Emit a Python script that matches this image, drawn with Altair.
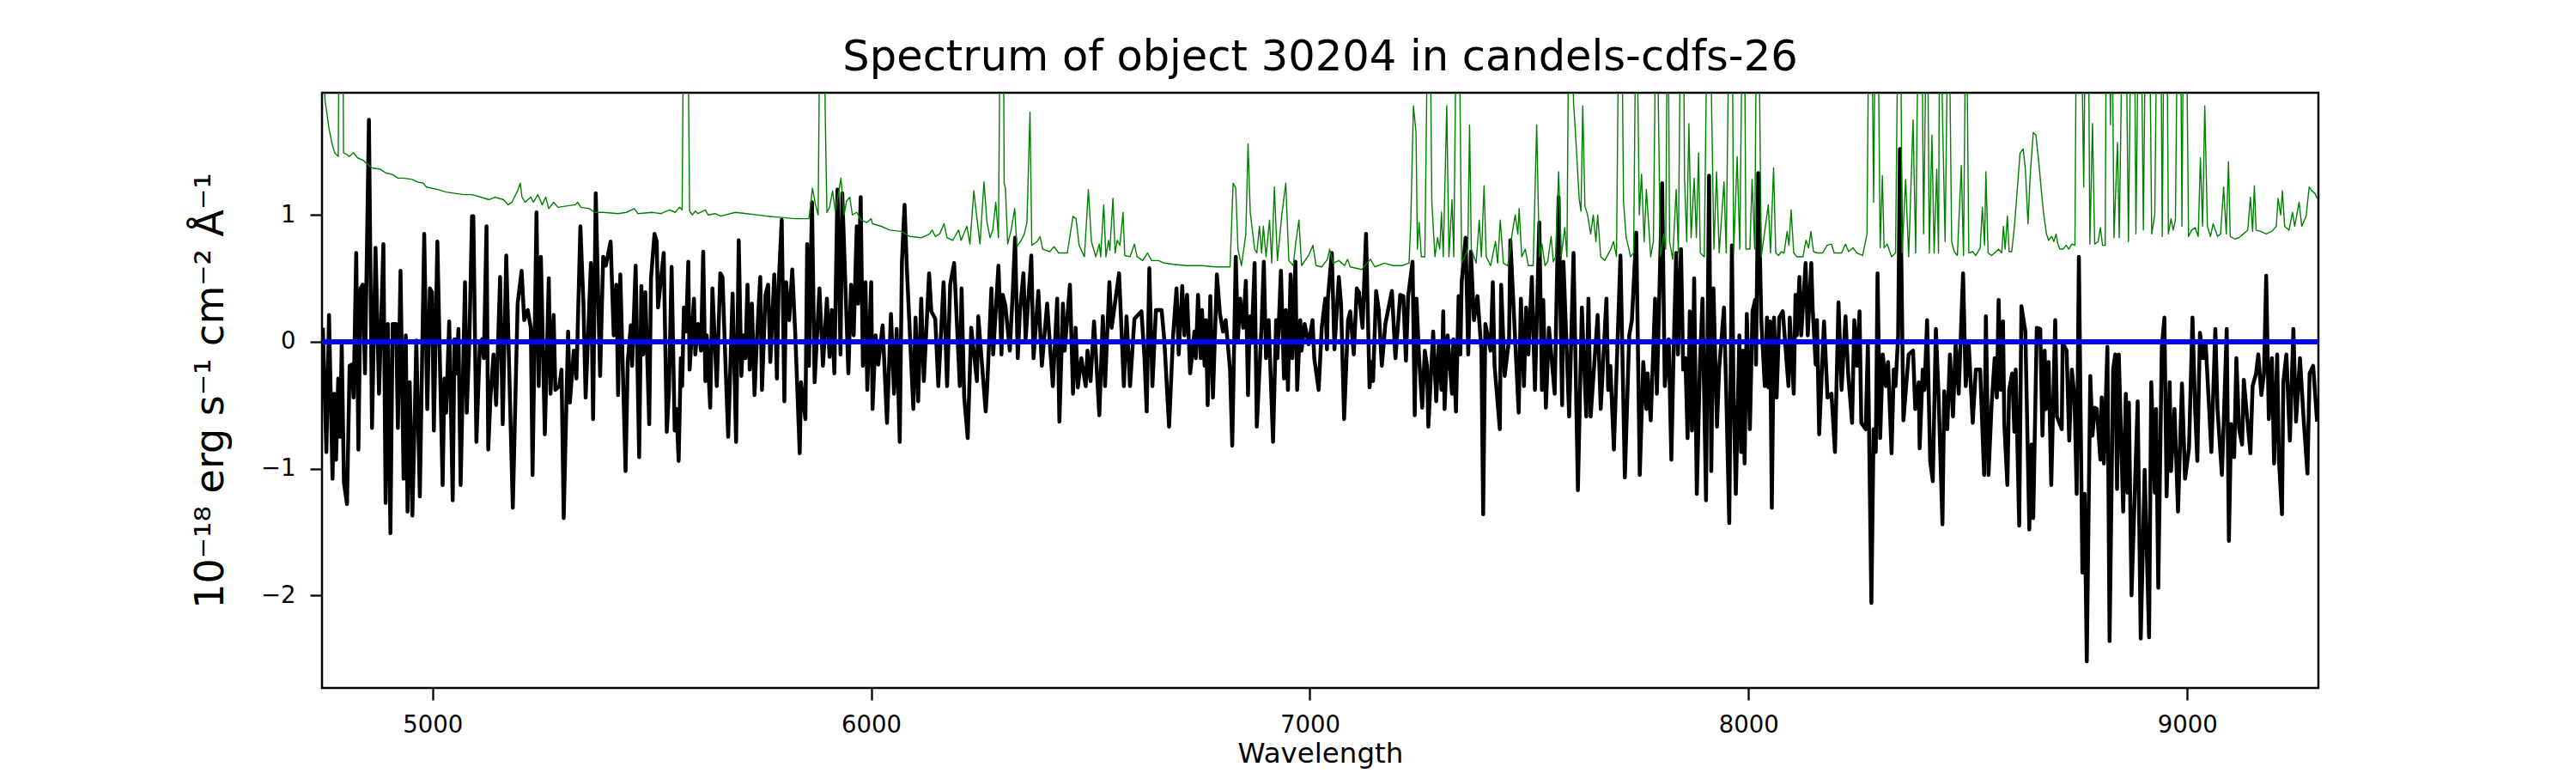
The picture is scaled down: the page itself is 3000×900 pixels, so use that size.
import altair as alt
import pandas as pd

# ---- data ----
wave_flux = [
    4750, 4758, 4764, 4772, 4776, 4780, 4785, 4789, 4793, 4798, 4805, 4811, 4816, 4820, 4826, 4831, 4836, 4841, 4846, 4855,
    4862, 4870, 4878, 4888, 4893, 4898, 4904, 4909, 4917, 4921, 4927, 4934, 4939, 4943, 4948, 4954, 4960, 4963, 4971, 4981,
    4988, 4994, 4999, 5003, 5011, 5017, 5023, 5027, 5031, 5038, 5046, 5050, 5054, 5059, 5064, 5074, 5078, 5084, 5090, 5093,
    5100, 5108, 5113, 5117, 5123, 5127, 5132, 5139, 5145, 5154, 5160, 5168, 5183, 5194, 5203, 5209, 5217, 5224, 5228, 5237,
    5242, 5247, 5256, 5265, 5269, 5276, 5280, 5289, 5294, 5299, 5309, 5313, 5322, 5328, 5337, 5344, 5349, 5361, 5366, 5372,
    5382, 5389, 5395, 5406, 5413, 5419, 5423, 5428, 5440, 5445, 5452, 5455, 5463, 5471, 5476, 5480, 5485, 5494, 5498,
    5506, 5511, 5514, 5527, 5534, 5539, 5545, 5552, 5556, 5561, 5566, 5569, 5573, 5578, 5583, 5586, 5596, 5599, 5605, 5612,
    5617, 5622, 5625, 5633, 5638, 5648, 5656, 5661, 5667, 5674, 5684, 5692, 5698, 5704, 5708, 5713, 5718, 5723, 5728, 5734,
    5739, 5747, 5751, 5759, 5765, 5770, 5779, 5785, 5789, 5796, 5802, 5806, 5813, 5820, 5827, 5837, 5840, 5850, 5854, 5858,
    5865, 5871, 5882, 5890, 5899, 5905, 5910, 5916, 5923, 5930, 5934, 5948, 5954, 5960, 5967, 5970, 5976, 5981, 5987, 5991,
    6000, 6003, 6010, 6016, 6026, 6036, 6045, 6052, 6058, 6065, 6070, 6076, 6081, 6096, 6101, 6107, 6114, 6120, 6132, 6137,
    6146, 6153, 6165, 6173, 6180, 6189, 6202, 6206, 6212, 6220, 6228, 6241, 6244, 6261,
    6264, 6274, 6278, 6290, 6297, 6300, 6306, 6316, 6323, 6328, 6334, 6339, 6347, 6352, 6365, 6370, 6381, 6389, 6401, 6414,
    6424, 6429, 6437, 6441, 6453, 6460, 6466, 6471, 6479, 6489, 6493, 6500, 6508, 6520, 6528, 6533, 6543, 6548, 6565, 6576,
    6582, 6590, 6600, 6616, 6623, 6628, 6634, 6641, 6649, 6662, 6668, 6679, 6688, 6696, 6701, 6709, 6714, 6720, 6727, 6737,
    6740, 6745, 6751, 6754, 6760, 6763, 6767, 6773, 6779, 6788, 6795, 6802, 6808, 6818, 6823, 6831, 6836, 6841, 6848, 6854,
    6859, 6863, 6867, 6874, 6879, 6890, 6895, 6900, 6906, 6916, 6923, 6926, 6934, 6941, 6945, 6950, 6956, 6960, 6967, 6971,
    6978, 6981, 6988, 6997, 7006, 7010, 7020, 7027,
    7035, 7039, 7041, 7050, 7056, 7066, 7071, 7078, 7087, 7092, 7100, 7107, 7112, 7120, 7128, 7136, 7141, 7144, 7151, 7157,
    7164, 7172, 7187, 7195, 7206, 7213, 7219, 7224, 7234, 7239, 7243, 7249, 7256, 7262, 7267, 7270, 7281, 7288, 7294, 7300,
    7304, 7307, 7314, 7324, 7327, 7333, 7339, 7343, 7346, 7355, 7361, 7367, 7374, 7382, 7391, 7395, 7400, 7412, 7417, 7421,
    7433, 7436, 7444, 7454, 7457, 7476, 7481, 7488, 7493, 7498, 7506, 7513, 7523, 7529, 7532, 7538, 7545, 7558, 7567, 7575,
    7578, 7591, 7601, 7611, 7620, 7630, 7635, 7640, 7656, 7663, 7676, 7680, 7685, 7693, 7708, 7718, 7728, 7734, 7744, 7752,
    7760, 7767, 7770, 7777, 7787,
    7791, 7796, 7803, 7809, 7818, 7824, 7829, 7835, 7839, 7846, 7851, 7856, 7861, 7866, 7871, 7876, 7882, 7889, 7895, 7903,
    7910, 7915, 7920, 7928, 7933, 7944, 7949, 7956, 7962, 7966, 7971, 7979, 7983, 7987, 7991, 7996, 8003, 8009, 8015, 8017,
    8022, 8029, 8037, 8042, 8045, 8049, 8053, 8058, 8064, 8070, 8078, 8091, 8094, 8103, 8107, 8110, 8116, 8120, 8130, 8135,
    8143, 8146, 8153, 8156, 8161, 8172, 8180, 8189, 8197, 8205, 8212, 8221, 8227, 8236, 8241, 8247, 8253, 8257, 8267, 8272,
    8280, 8285, 8290, 8294, 8300, 8306, 8313, 8318, 8326, 8331, 8335, 8341, 8345, 8353, 8365, 8375, 8380, 8388, 8390, 8397,
    8401, 8407, 8414, 8420, 8427, 8433, 8442, 8446, 8453, 8459, 8466, 8472, 8479, 8489, 8495, 8502, 8511, 8518, 8528, 8537,
    8541, 8547,
    8554, 8561, 8566, 8570, 8575, 8580, 8583, 8590, 8594, 8601, 8606, 8609, 8617, 8622, 8631, 8640, 8645, 8649, 8657, 8665,
    8670, 8675, 8678, 8684, 8690, 8699, 8703, 8714, 8716, 8725, 8731, 8737, 8743, 8748, 8753, 8761, 8766, 8771, 8779, 8784,
    8789, 8794, 8802, 8805, 8810, 8818, 8823, 8831, 8836, 8840, 8844, 8854, 8860, 8864, 8867, 8873, 8887, 8894, 8903, 8913,
    8918, 8926, 8929, 8934, 8942, 8948, 8953, 8960, 8963, 8971, 8979, 8988, 8995, 9004, 9012, 9018, 9023, 9029, 9036, 9042,
    9050, 9055, 9064, 9069, 9079, 9083, 9090, 9095, 9100, 9107, 9112, 9118, 9125, 9129, 9134, 9144, 9149, 9157, 9162, 9169,
    9175, 9180, 9186, 9193, 9198, 9205, 9209, 9216, 9219, 9226, 9234, 9242, 9248, 9257, 9265, 9274, 9279, 9287, 9296,
]

flux = [
    0.11, -0.87, 0.21, -1.08, -0.41, -0.93, -0.29, -0.75, -0.02, -1.11, -1.28, -0.19, -0.18, -0.44, 0.70, -0.85, 0.42, 0.45, -0.25, 1.75,
    -0.68, 0.74, -0.41, 0.77, -1.27, 0.14, -1.51, 0.14, 0.14, -0.68, 0.56, -1.08, 0.05, -1.34, -0.32, -1.37, -0.50, 0.01, -1.22, 0.85,
    -0.53, 0.42, 0.39, -0.70, 0.79, -0.19, -1.13, -0.29, -0.56, 0.16, -1.25, 0.02, -0.25, 0.10, -1.13, 0.47, -0.56, 0.02, 0.99, 0.99,
    -0.79, -0.01, 0.02, -0.13, 0.91, -0.85, -0.44, -0.10, -0.50, 0.51, -0.65, 0.68, -1.31, 0.30, 0.56, 0.17, 0.25, 0.11, -1.05, 1.02,
    -0.35, 0.67, -0.73, 0.50, -0.41, 0.21, -0.38, -0.35, -0.22, -1.39, 0.08, -0.48, -0.07, -0.29, 0.91, 0.30, -0.44, 0.62, -0.61, 1.17,
    -0.27, 0.67, 0.60, 0.79, 0.05, 0.45, -0.42, 0.53, -1.02, -0.16, 0.13, -0.19, 0.60, -0.91, 0.44, -0.10, 0.39, -0.65, 0.50,
    0.85, 0.79, 0.27, 0.70, -0.71, -0.38, 0.59, -0.70, -0.53, -0.94, -0.13, -0.35, 0.27, 0.08, 0.63, -0.22, 0.34, -0.10, 0.14, -0.07,
    0.71, -0.31, 0.05, -0.52, 0.42, -0.35, 0.54, 0.51, -0.10, -0.75, 0.38, -0.79, 0.80, -0.27, 0.05, -0.13, 0.45, -0.22, 0.30, -0.42,
    -0.01, 0.51, -0.38, 0.37, 0.45, -0.16, 0.53, -0.29, 0.45, 0.96, -0.47, 0.47, 0.17, 0.57, 0.05, -0.88, -0.32, -0.61, 0.77, -0.19,
    1.10, -0.32, 0.42, -0.19, 0.34, -0.12, 0.25, -0.25, 1.20, -0.10, 1.17, -0.25, 0.45, 0.05, 0.91, 0.30, 1.14, -0.19, 0.47, -0.38,
    0.47, -0.53, 0.05, -0.18, 0.13, -0.64, 0.22, -0.41, 0.10, -0.79, 0.63, 1.08, 0.60, -0.53, 0.19, -0.47, 0.34, -0.31, 0.54, 0.24,
    0.18, -0.35, 0.47, -0.35, 0.45, 0.62, -0.35, 0.42, -0.44, -0.76, 0.11, -0.31, 0.20, -0.55,
    -0.38, 0.42, -0.10, 0.60, -0.10, 0.37, 0.28, -0.07, 0.42, 0.82, -0.13, 0.24, 0.54, 0.02, 0.68, -0.13, 0.40, -0.19, 0.30, -0.35,
    0.34, -0.63, 0.30, -0.07, 0.45, -0.41, 0.11, -0.36, -0.13, -0.35, -0.07, -0.31, 0.16, -0.58, 0.20, -0.35, 0.47, 0.11, 0.54, -0.35,
    0.20, -0.35, 0.18, 0.24, -0.13, -0.55, 0.58, -0.35, 0.25, 0.25, 0.02, -0.67, 0.04, 0.42, -0.10, 0.44, 0.05, 0.37, -0.25, 0.08,
    -0.13, 0.37, -0.13, 0.25, -0.19, 0.17, -0.50, 0.36, -0.44, 0.53, 0.22, 0.08, 0.17, -0.22, -0.82, 0.67, 0.02, 0.34, 0.11, 0.48,
    -0.42, 0.20, -0.01, 0.62, -0.67, 0.14, 0.63, -0.13, 0.17, -0.79, 0.17, -0.13, 0.56, -0.29, 0.25, -0.38, 0.53, -0.13, 0.63, -0.38,
    0.17, -0.07, 0.14, -0.02, 0.17, -0.13, -0.38, 0.11,
    0.34, -0.06, 0.34, 0.70, -0.06, 0.51, 0.30, -0.61, 0.17, 0.24, -0.10, 0.42, 0.39, 0.11, 0.85, -0.36, -0.16, -0.31, 0.40, 0.25,
    -0.19, 0.14, 0.40, -0.13, 0.37, 0.36, -0.15, 0.36, 0.63, -0.58, 0.34, -0.13, -0.52, -0.07, -0.19, -0.67, 0.08, -0.47, -0.01, -0.38,
    0.24, -0.53, 0.05, -0.41, 0.02, -0.55, 0.36, -0.10, 0.47, 0.82, -0.10, 0.71, 0.17, 0.36, -0.07, -1.36, 0.14, -0.07, 0.47, -0.19,
    -0.69, 0.45, -0.27, 0.02, 0.80, -0.56, 0.34, -0.35, 0.27, -0.10, 0.51, -0.38, 0.94, -0.38, 0.33, -0.52, 0.11, -0.41, 1.14, -0.50,
    0.63, -0.59, 0.70, -1.17, 0.27, -0.59, 0.34, -0.59, 0.21, -0.53, 0.34, -0.38, -0.19, -0.85, 0.68, -1.07, 0.05, 0.17, 0.86, -1.05,
    -0.16, -0.53, -0.25, -0.62, 0.34,
    -0.41, 0.28, 1.25, -0.35, 0.02, -0.93, -0.10, 0.70, -0.10, 0.73, -0.22, -0.13, -0.76, 0.24, -0.70, 0.50, -1.20, -0.19, 0.34, -1.25,
    1.31, -1.02, 0.42, -0.67, -0.21, 0.27, -0.38, -1.43, 0.76, -0.44, -1.20, 0.05, -0.87, -0.07, -0.96, 0.22, -0.69, 0.24, 0.33, -0.18,
    1.33, 0.17, -0.35, 0.19, -0.36, 0.16, -1.31, 0.19, -0.44, 0.19, 0.24, -0.35, 0.19, -0.41, 0.37, 0.05, 0.51, 0.05, 0.62, 0.05,
    0.62, 0.27, -0.18, 0.17, -0.73, 0.16, -0.44, -0.41, -0.87, 0.31, -0.38, 0.20, -0.25, -0.64, 0.17, -0.19, 0.24, -0.64, -0.69, -0.02,
    -2.06, -0.69, -0.87, 0.54, -0.76, -0.10, -0.35, -0.16, -0.88, -0.22, -0.35, 0.05, 1.52, -0.62, -0.10, -0.07, -0.53, -0.32, -0.84, -0.22,
    -0.38, 0.17, -0.94, -1.10, 0.10, -0.41, -1.44, -0.39, -0.69, -0.10, -0.59, -0.01, -0.41, 0.54, -0.35, -0.02, -0.64, -0.22, -0.22, -1.05,
    0.20, -1.05,
    -0.50, -0.13, -0.44, 0.33, -0.38, 0.16, -0.65, -1.13, -0.38, -0.25, -0.71, -0.22, -1.45, 0.28, 0.08, -1.48, -0.81, -1.39, 0.11, 0.10,
    -0.74, -0.07, -0.53, -0.16, -1.13, 0.17, -0.59, -0.69, -0.01, -0.07, -0.78, -0.22, -0.44, -1.20, 0.67, -1.82, -1.20, -2.52, -0.27, -0.74,
    -0.52, -0.53, -0.93, -0.44, -0.96, -0.04, -2.36, -0.22, -0.10, -1.16, -0.10, -1.34, -0.41, -1.19, -0.48, -2.00, -0.47, -2.34, -1.01, -2.33,
    -0.32, -1.19, -0.53, -1.94, -0.04, 0.19, -1.22, -0.32, -1.02, -0.53, -1.34, -0.33, -1.08, -0.84, 0.19, -0.53, -0.94, 0.07, -0.13, -0.01,
    -0.53, -0.87, 0.10, -0.53, -1.05, -0.65, 0.10, -1.57, -0.65, -0.91, -0.13, -0.68, -0.81, -0.30, -0.50, -0.88, -0.35, -0.25, -0.10, -0.42,
    -0.25, 0.52, -0.61, -0.13, -0.96, -0.10, -0.93, -1.36, -0.32, -0.10, -0.78, 0.10, -0.63, -0.13, -0.59, -1.04, -0.25, -0.19, -0.63,
]

wave_noise = [
    4750, 4755, 4758, 4764, 4771, 4777, 4785, 4788, 4795, 4797, 4803, 4810, 4820, 4829, 4842, 4852, 4862, 4881, 4894, 4908,
    4921, 4934, 4953, 4966, 4979, 4986, 4999, 5012, 5031, 5051, 5071, 5090, 5110, 5129, 5142, 5162, 5172, 5181, 5188, 5194,
    5200, 5204, 5211, 5224, 5230, 5240, 5250, 5258, 5265, 5276, 5286, 5305, 5325, 5331, 5338, 5357, 5370, 5390, 5423, 5442,
    5460, 5468, 5501,
    5521, 5540, 5553, 5563, 5569, 5573, 5581, 5586, 5592, 5599, 5605, 5622, 5628, 5644, 5657, 5690, 5716, 5762, 5794, 5827,
    5858, 5866, 5873, 5879, 5884, 5892, 5895, 5899, 5905, 5912, 5918, 5925, 5931, 5938, 5944, 5951, 5957, 5967, 5977, 5990,
    6000, 6003, 6023, 6042, 6068, 6088, 6114, 6133, 6139, 6146, 6156, 6166, 6173, 6186, 6199, 6205, 6218, 6225, 6234, 6241,
    6248, 6257, 6264,
    6271, 6277, 6284, 6290, 6295, 6301, 6303, 6306, 6311, 6319, 6327, 6332, 6342, 6349, 6355, 6362, 6366, 6378, 6385, 6391,
    6407, 6417, 6427, 6447, 6460, 6467, 6474, 6486, 6495, 6502, 6512, 6520, 6523, 6530, 6535, 6541, 6544, 6551, 6556, 6561,
    6567, 6574, 6578, 6590, 6600, 6606, 6619, 6630, 6639, 6655, 6668, 6688, 6720, 6753, 6786, 6818, 6825, 6831, 6836, 6844,
    6854, 6859, 6864, 6874, 6879, 6885, 6890, 6894, 6900, 6908, 6913, 6919, 6926, 6936, 6945, 6952, 6962, 6967, 6975, 6981,
    6997, 7007, 7014, 7027,
    7040, 7045, 7053, 7066, 7079, 7086, 7092, 7118, 7138, 7148, 7170, 7190, 7210, 7226, 7230, 7236, 7242, 7245, 7249, 7254,
    7262, 7270, 7273, 7278, 7285, 7291, 7296, 7300, 7304, 7312, 7317, 7324, 7328, 7335, 7339, 7346, 7353, 7360, 7364, 7368,
    7379, 7386, 7391, 7397, 7402, 7412, 7423, 7428, 7434, 7441, 7451, 7461, 7468, 7474, 7477, 7483, 7491, 7498, 7509, 7517,
    7523, 7529, 7536, 7542, 7550, 7555, 7560, 7567, 7573, 7581, 7586, 7591, 7596, 7601, 7607, 7614, 7618, 7622, 7627, 7633,
    7640, 7646, 7652, 7656, 7663, 7672, 7686, 7692, 7699, 7705, 7710, 7715, 7721, 7726, 7731, 7738, 7744, 7751, 7756, 7762,
    7767, 7772, 7777, 7783, 7790,
    7799, 7807, 7811, 7816, 7820, 7827, 7835, 7840, 7846, 7851, 7854, 7859, 7864, 7869, 7876, 7881, 7886, 7890, 7899, 7907,
    7911, 7916, 7921, 7927, 7933, 7944, 7949, 7957, 7962, 7966, 7974, 7980, 7987, 7990, 7994, 8003, 8008, 8014, 8019, 8022,
    8029, 8045, 8050, 8057, 8062, 8068, 8075, 8081, 8088, 8092, 8097, 8103, 8110, 8124, 8131, 8137, 8142, 8148, 8156, 8169,
    8179, 8189, 8195, 8212, 8221, 8228, 8238, 8247, 8260, 8270, 8275, 8280, 8285, 8290, 8294, 8300, 8305, 8309, 8316, 8326,
    8335, 8342, 8346, 8350, 8358, 8365, 8375, 8381, 8388, 8394, 8399, 8407, 8412, 8418, 8423, 8429, 8433, 8436, 8443, 8448,
    8456, 8463, 8469, 8476, 8485, 8490, 8496, 8502, 8511, 8518, 8528, 8533, 8538, 8541, 8546, 8554,
    8564, 8570, 8577, 8581, 8585, 8590, 8594, 8600, 8606, 8613, 8619, 8626, 8631, 8637, 8642, 8649, 8655, 8662, 8668, 8673,
    8679, 8684, 8691, 8696, 8701, 8705, 8710, 8717, 8724, 8730, 8737, 8744, 8748, 8757, 8764, 8769, 8774, 8778, 8784, 8789,
    8797, 8802, 8807, 8813, 8816, 8821, 8825, 8828, 8833, 8841, 8845, 8854, 8859, 8866, 8873, 8879, 8883, 8890, 8894, 8900,
    8906, 8913, 8919, 8926, 8932, 8939, 8943, 8948, 8953, 8957, 8963, 8968, 8973, 8979, 8984, 8988, 8992, 8997, 9003, 9010,
    9018, 9025, 9030, 9035, 9040, 9046, 9053, 9059, 9069, 9076, 9083, 9089, 9094, 9098, 9108, 9118, 9128, 9138, 9144, 9149,
    9153, 9157, 9167, 9180, 9193, 9203, 9207, 9213, 9217, 9222, 9232, 9240, 9245, 9255, 9261, 9271, 9278, 9284, 9291, 9296,
]

noise = [
    2.30, 1.90, 1.83, 1.68, 1.56, 1.49, 1.46, 3.00, 3.00, 1.49, 1.48, 1.46, 1.49, 1.45, 1.43, 1.40, 1.37, 1.36, 1.33, 1.32,
    1.29, 1.29, 1.28, 1.26, 1.25, 1.22, 1.21, 1.20, 1.18, 1.17, 1.16, 1.16, 1.14, 1.12, 1.14, 1.12, 1.08, 1.10, 1.15, 1.19,
    1.25, 1.14, 1.10, 1.14, 1.10, 1.16, 1.08, 1.14, 1.05, 1.10, 1.06, 1.07, 1.08, 1.10, 1.06, 1.05, 1.02, 1.02, 1.01, 1.02,
    1.05, 1.01, 1.02,
    1.01, 1.04, 1.02, 1.06, 1.04, 3.00, 3.00, 1.03, 1.00, 1.03, 1.01, 1.04, 1.00, 1.01, 0.99, 1.02, 1.01, 0.99, 0.98, 0.97,
    0.97, 1.21, 1.08, 1.00, 3.00, 3.00, 1.83, 1.02, 1.06, 1.19, 1.03, 1.16, 1.29, 1.00, 1.11, 1.14, 1.00, 1.02, 0.96, 0.94,
    0.97, 0.93, 0.91, 0.88, 0.87, 0.83, 0.82, 0.85, 0.88, 0.83, 0.85, 0.93, 0.82, 0.80, 0.88, 0.80, 0.91, 0.77, 1.19, 0.97,
    0.77, 1.26, 0.94,
    0.82, 0.88, 1.10, 0.82, 3.00, 3.00, 1.25, 1.21, 0.77, 0.88, 1.05, 0.75, 0.80, 0.85, 0.94, 1.81, 0.76, 0.79, 0.83, 0.73,
    0.71, 0.75, 0.70, 0.70, 0.99, 0.97, 0.76, 0.67, 1.20, 0.79, 0.67, 0.77, 0.67, 1.08, 0.67, 0.80, 0.72, 1.13, 0.70, 0.80,
    0.76, 1.02, 0.68, 0.67, 0.77, 0.67, 0.64, 0.70, 0.64, 0.64, 0.62, 0.61, 0.60, 0.60, 0.59, 0.59, 1.25, 1.21, 0.73, 0.60,
    0.85, 1.56, 1.02, 0.73, 0.70, 0.91, 0.70, 0.91, 0.67, 0.96, 0.62, 1.22, 0.64, 1.00, 1.25, 0.64, 0.60, 0.76, 0.96, 0.60,
    0.68, 0.76, 0.60, 0.59,
    0.65, 0.73, 0.62, 0.64, 0.60, 0.65, 0.59, 0.57, 0.65, 0.59, 0.62, 0.60, 0.60, 0.62, 0.94, 1.86, 1.65, 0.73, 0.94, 0.67,
    0.67, 3.00, 3.00, 1.10, 0.67, 0.82, 0.73, 1.02, 0.67, 1.86, 0.67, 1.12, 0.67, 3.00, 3.00, 0.62, 0.67, 0.73, 1.71, 0.73,
    0.62, 0.96, 0.67, 1.23, 0.67, 0.60, 0.79, 0.62, 0.96, 0.62, 0.60, 0.85, 1.00, 0.85, 1.05, 0.67, 0.73, 0.60, 0.60, 1.71,
    0.67, 0.77, 0.60, 0.63, 0.83, 0.63, 0.67, 1.34, 0.67, 0.90, 0.67, 3.00, 3.00, 1.89, 1.55, 1.12, 1.03, 1.86, 1.07, 1.00,
    0.85, 1.00, 0.79, 1.00, 0.67, 0.64, 0.73, 0.79, 0.67, 3.00, 3.00, 1.10, 0.82, 0.75, 0.67, 0.70, 3.00, 1.00, 1.32, 0.79,
    1.20, 0.94, 0.67, 0.79, 3.00,
    0.67, 0.85, 0.73, 3.00, 0.79, 0.65, 1.20, 0.70, 3.00, 3.00, 1.29, 0.79, 1.72, 0.82, 1.29, 0.82, 1.49, 0.70, 0.67, 3.00,
    3.00, 1.79, 0.73, 1.34, 0.70, 1.26, 0.70, 3.00, 3.00, 0.70, 1.46, 0.73, 3.00, 3.00, 0.73, 0.73, 1.28, 0.73, 3.00, 3.00,
    0.67, 1.08, 0.70, 1.37, 0.70, 0.68, 0.71, 0.70, 0.87, 0.76, 1.04, 0.70, 0.67, 0.67, 0.80, 0.74, 0.87, 0.71, 0.70, 0.70,
    0.76, 0.77, 0.70, 0.70, 0.77, 0.71, 0.74, 0.70, 0.68, 0.85, 3.00, 3.00, 1.10, 3.00, 3.00, 0.74, 1.31, 0.74, 0.77, 0.67,
    0.70, 3.00, 3.00, 0.70, 1.28, 0.67, 1.75, 0.70, 3.00, 3.00, 0.85, 3.00, 0.70, 1.63, 0.70, 1.36, 0.70, 3.00, 1.63, 0.79,
    3.00, 0.79, 0.71, 0.68, 1.39, 0.68, 3.00, 0.70, 0.71, 0.68, 0.74, 1.06, 0.76, 1.34, 0.70, 0.68,
    0.71, 0.73, 0.70, 0.91, 0.73, 0.99, 0.71, 0.71, 0.91, 1.22, 1.49, 1.52, 1.36, 0.93, 1.31, 1.65, 1.63, 1.40, 1.17, 1.00,
    0.85, 0.80, 0.83, 0.79, 0.85, 0.77, 0.73, 0.73, 0.76, 0.73, 0.77, 0.76, 3.00, 3.00, 1.22, 3.00, 3.00, 0.77, 1.72, 0.77,
    0.79, 0.90, 0.76, 0.76, 3.00, 3.00, 1.71, 3.00, 0.82, 1.57, 0.82, 3.00, 3.00, 0.79, 3.00, 3.00, 0.85, 3.00, 3.00, 0.88,
    3.00, 3.00, 0.85, 1.00, 3.00, 3.00, 0.83, 3.00, 3.00, 0.85, 0.97, 0.88, 0.96, 3.00, 3.00, 0.91, 3.00, 3.00, 0.83, 0.88,
    0.90, 0.83, 1.45, 0.91, 1.86, 0.91, 0.83, 0.93, 0.83, 0.85, 1.22, 0.85, 1.42, 0.83, 0.81, 0.82, 0.85, 0.88, 1.14, 0.87,
    1.23, 0.88, 0.87, 0.85, 0.87, 0.91, 1.13, 1.00, 1.19, 0.91, 0.88, 1.02, 0.91, 1.10, 0.91, 0.99, 1.22, 1.19, 1.17, 1.13,
]

x_ticks = [5000, 6000, 7000, 8000, 9000]
y_ticks = [-2, -1, 0, 1]
x_limits = [4748, 9299]
y_limits = [-2.73, 1.963]
title_text = "Spectrum of object 30204 in candels-cdfs-26"
x_title = "Wavelength"
y_title = "10\u207b\u00b9\u2078 erg s\u207b\u00b9 cm\u207b\u00b2 \u00c5\u207b\u00b9"

assert len(wave_flux) == len(flux), (len(wave_flux), len(flux))
assert len(wave_noise) == len(noise), (len(wave_noise), len(noise))

flux_df = pd.DataFrame({"wavelength": wave_flux, "flux": flux})
noise_df = pd.DataFrame({"wavelength": wave_noise, "flux": noise})

FONT = "DejaVu Sans"
xscale = alt.Scale(domain=x_limits, nice=False, zero=False)
yscale = alt.Scale(domain=y_limits, nice=False, zero=False)

x_axis = alt.Axis(
    values=x_ticks, format="d", title=x_title, grid=False, domain=False,
    labelFont=FONT, labelFontSize=27.5, labelColor="black", labelFlush=False,
    labelBaseline="alphabetic", labelPadding=37,
    tickSize=14, tickWidth=2.3, tickColor="black",
    titleFont=FONT, titleFontSize=32.5, titleFontWeight="normal", titleColor="black",
    titleBaseline="alphabetic", titleX=1162.5, titleY=86,
)
y_axis = alt.Axis(
    values=y_ticks, format="d", title=y_title, grid=False, domain=False,
    labelFont=FONT, labelFontSize=27.5, labelColor="black", labelFlush=False,
    labelPadding=17,
    tickSize=14, tickWidth=2.3, tickColor="black",
    titleFont=FONT, titleFontSize=46, titleFontWeight="normal", titleColor="black",
    titlePadding=34,
)

# every layer carries the identical axis definitions so they merge into one
black = alt.Chart(flux_df).mark_line(
    color="black", strokeWidth=4.5, strokeJoin="round", clip=True
).encode(
    x=alt.X("wavelength:Q", scale=xscale, axis=x_axis),
    y=alt.Y("flux:Q", scale=yscale, axis=y_axis),
)

green = alt.Chart(noise_df).mark_line(
    color="#008000", strokeWidth=1.4, strokeJoin="round", clip=True
).encode(
    x=alt.X("wavelength:Q", scale=xscale, axis=x_axis),
    y=alt.Y("flux:Q", scale=yscale, axis=y_axis),
)

blue = alt.Chart(flux_df).mark_rule(color="#0000ff", strokeWidth=5.5, clip=True).encode(
    y=alt.YDatum(0, scale=yscale, axis=y_axis)
)

chart = alt.layer(black, green, blue).properties(
    width=2325,
    height=693,
    title=alt.TitleParams(
        text=title_text, font=FONT, fontSize=49.5, fontWeight="normal", color="black",
        anchor="middle", frame="group", baseline="alphabetic", offset=25, dy=48,
    ),
    padding={"left": 367, "top": 100, "right": 292, "bottom": 99},
    autosize=alt.AutoSizeParams(type="none"),
).configure_view(stroke="black", strokeWidth=2.5)

chart.save("out.html", embed_options={"renderer": "svg", "actions": False})
